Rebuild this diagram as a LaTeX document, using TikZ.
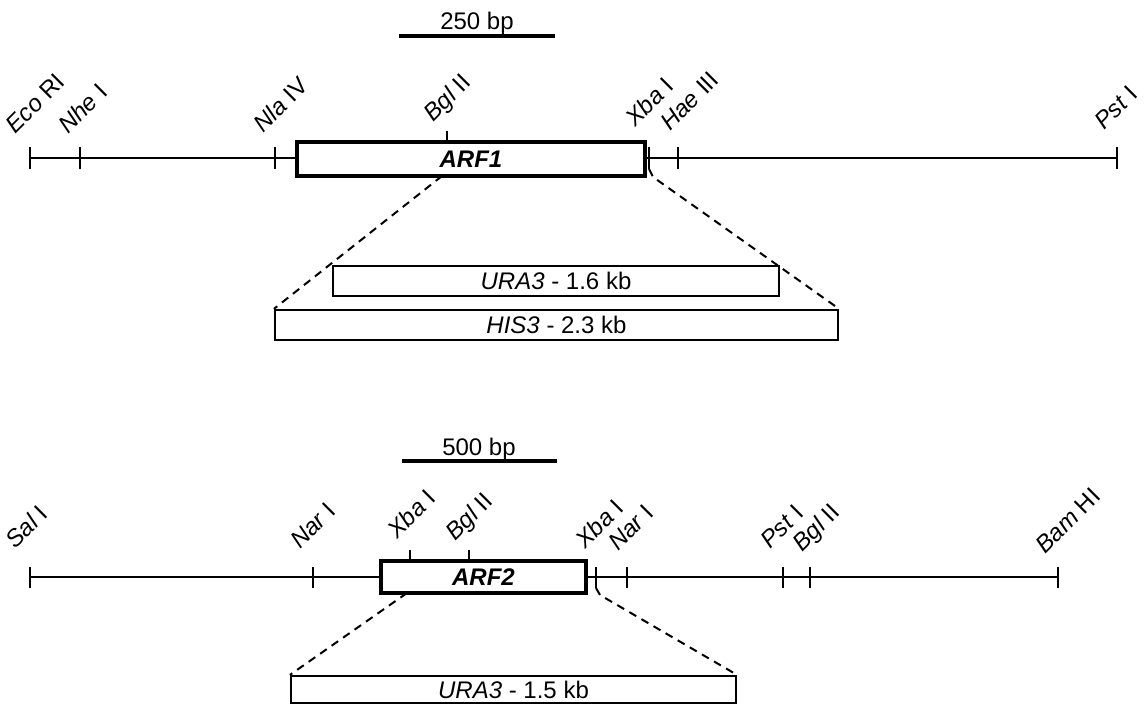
\documentclass[tikz,border=0pt]{standalone}
\usepackage{fontspec}
\setmainfont{Liberation Sans}
\begin{document}
\begin{tikzpicture}[x=0.5pt,y=-0.5pt,
  every node/.style={font=\fontsize{12}{14}\selectfont},
  mapline/.style={line width=1pt},
  tickline/.style={line width=1pt},
  site/.style={rotate=45,anchor=base west,inner sep=0pt},
  genebox/.style={draw,line width=2pt,fill=white,inner sep=0pt,font=\fontsize{12}{14}\selectfont\bfseries\itshape},
  insbox/.style={draw,line width=1.1pt,fill=white,inner sep=0pt},
  scalebar/.style={line width=2pt},
  zoomline/.style={line width=1pt,dash pattern=on 4pt off 3pt}]
\useasboundingbox (0,0) rectangle (1145,705);

% ---------- top map (ARF1) ----------
\draw[scalebar] (399,36) coordinate (sb1a) -- (555,36) coordinate (sb1b);
\node[anchor=base,inner sep=0pt] (sb1t) at (477,30) {250 bp};

\draw[mapline] (30,158) coordinate (m1a) -- (1117,158) coordinate (m1b);
\foreach \x in {30,80,275,649,678,1117}
  \draw[tickline] (\x,147) -- (\x,169);
\draw[tickline] (447,131) -- (447,143);
\node[genebox,minimum width=174pt,minimum height=17pt] (arf1) at (471,159) {ARF1};

\node[site] (s1) at (15,135) {\textit{Eco} RI};
\node[site] (s2) at (68,135) {\textit{Nhe} I};
\node[site] (s3) at (263,134) {\textit{Nla} IV};
\node[site] (s4) at (433,123) {\textit{Bgl} II};
\node[site] (s5) at (635,128) {\textit{Xba} I};
\node[site] (s6) at (670,132) {\textit{Hae} III};
\node[site] (s7) at (1104,131) {\textit{Pst} I};

\node[insbox,minimum width=223pt,minimum height=15pt] (ura1) at (556,281) {\textit{URA3} - 1.6 kb};
\node[insbox,minimum width=281.5pt,minimum height=15pt] (his3) at (556.5,325) {\textit{HIS3} - 2.3 kb};

\coordinate (z1l) at (442,176);
\coordinate (z1r0) at (649,169);
\coordinate (z1r) at (653,177);
\draw[zoomline] (z1l) -- (his3.north west);
\draw[zoomline] (z1r0) -- (z1r) -- (his3.north east);

% ---------- bottom map (ARF2) ----------
\draw[scalebar] (402,461) coordinate (sb2a) -- (557,461) coordinate (sb2b);
\node[anchor=base,inner sep=0pt] (sb2t) at (479,455) {500 bp};

\draw[mapline] (30,577) coordinate (m2a) -- (1058,577) coordinate (m2b);
\foreach \x in {30,313,596,627,783,810,1058}
  \draw[tickline] (\x,567) -- (\x,588);
\draw[tickline] (410,550) -- (410,562);
\draw[tickline] (469,550) -- (469,562);
\node[genebox,minimum width=102.5pt,minimum height=16pt] (arf2) at (483.5,577) {ARF2};

\node[site] (t1) at (15,550) {\textit{Sal} I};
\node[site] (t2) at (300,550) {\textit{Nar} I};
\node[site] (t3) at (397,540) {\textit{Xba} I};
\node[site] (t4) at (455,542) {\textit{Bgl} II};
\node[site] (t5) at (585,550) {\textit{Xba} I};
\node[site] (t6) at (618,552) {\textit{Nar} I};
\node[site] (t7) at (770,550) {\textit{Pst} I};
\node[site] (t8) at (802,553) {\textit{Bgl} II};
\node[site] (t9) at (1045,555) {\textit{Bam} HI};

\node[insbox,minimum width=222.5pt,minimum height=13.5pt] (ura2) at (513.5,689.5) {\textit{URA3} - 1.5 kb};

\coordinate (z2l) at (407,593);
\coordinate (z2r0) at (596,588);
\coordinate (z2r) at (600,595);
\draw[zoomline] (z2l) -- (ura2.north west);
\draw[zoomline] (z2r0) -- (z2r) -- (ura2.north east);
\end{tikzpicture}
\end{document}
